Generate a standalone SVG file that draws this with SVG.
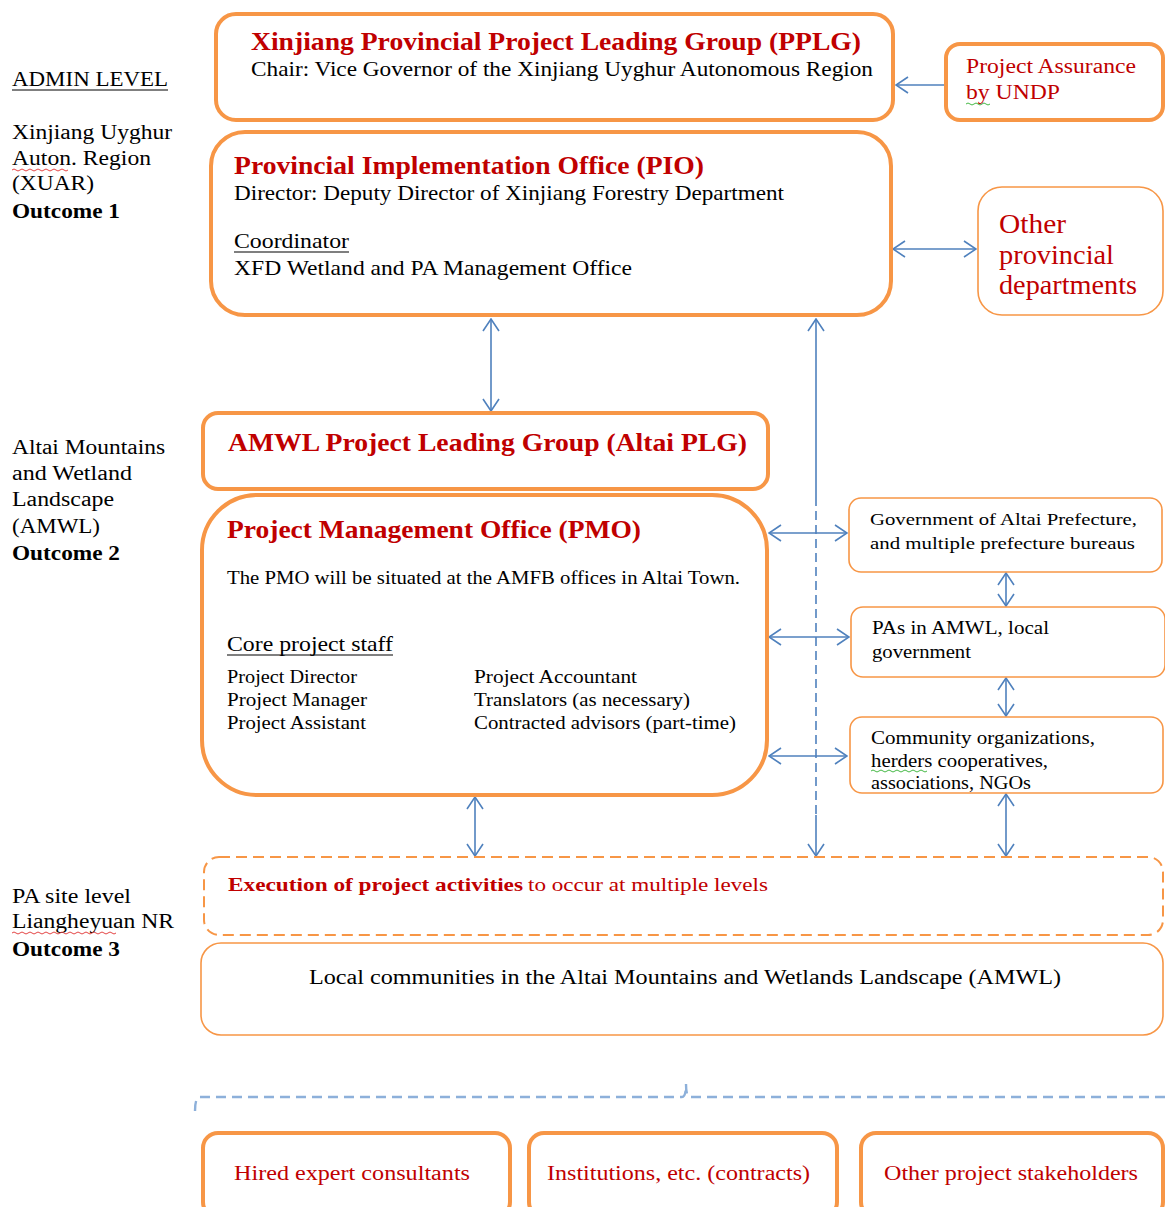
<svg xmlns="http://www.w3.org/2000/svg" width="1165" height="1207" viewBox="0 0 1165 1207">
<style>
text{font-family:"Liberation Serif","Times New Roman",serif;fill:#000}
.red{fill:#C00000}
.b{font-weight:bold}
.box{fill:#fff;stroke:#F79646;stroke-width:4}
.thin{fill:#fff;stroke:#F79646;stroke-width:1.6}
.dash{fill:#fff;stroke:#F79646;stroke-width:2;stroke-dasharray:11 6}
.ln{stroke:#4F81BD;stroke-width:1.6;fill:none}
.ul{stroke:#000;stroke-width:1.2}
.wr{stroke:#E03030;stroke-width:0.9;fill:none}
.wg{stroke:#30B030;stroke-width:0.9;fill:none}
</style>
<defs>
<marker id="ah" viewBox="0 0 14 18" refX="13" refY="9" markerWidth="14" markerHeight="18" markerUnits="userSpaceOnUse" orient="auto-start-reverse">
<path d="M1,1 L13,9 L1,17" fill="none" stroke="#4F81BD" stroke-width="1.6"/>
</marker>
</defs>
<rect width="1165" height="1207" fill="#fff"/>

<g id="left-labels" font-size="20">
<text x="12" y="86" textLength="156" lengthAdjust="spacingAndGlyphs">ADMIN LEVEL</text>
<line class="ul" x1="12" y1="90" x2="168" y2="90"/>
<text x="12" y="139" textLength="160" lengthAdjust="spacingAndGlyphs">Xinjiang Uyghur</text>
<text x="12" y="165" textLength="139" lengthAdjust="spacingAndGlyphs">Auton. Region</text>
<path class="wr" d="M12,170 q2,-2 4,0 t4,0 t4,0 t4,0 t4,0 t4,0 t4,0 t4,0 t4,0 t4,0 t4,0 t4,0 t4,0 t4,0"/>
<text x="12" y="190" textLength="82" lengthAdjust="spacingAndGlyphs">(XUAR)</text>
<text x="12" y="218" class="b" textLength="108" lengthAdjust="spacingAndGlyphs">Outcome 1</text>
<text x="12" y="454" textLength="153" lengthAdjust="spacingAndGlyphs">Altai Mountains</text>
<text x="12" y="480" textLength="120" lengthAdjust="spacingAndGlyphs">and Wetland</text>
<text x="12" y="506" textLength="102" lengthAdjust="spacingAndGlyphs">Landscape</text>
<text x="12" y="533" textLength="88" lengthAdjust="spacingAndGlyphs">(AMWL)</text>
<text x="12" y="560" class="b" textLength="108" lengthAdjust="spacingAndGlyphs">Outcome 2</text>
<text x="12" y="903" textLength="119" lengthAdjust="spacingAndGlyphs">PA site level</text>
<text x="12" y="928" textLength="162" lengthAdjust="spacingAndGlyphs">Liangheyuan NR</text>
<path class="wr" d="M12,933 q2,-2 4,0 t4,0 t4,0 t4,0 t4,0 t4,0 t4,0 t4,0 t4,0 t4,0 t4,0 t4,0 t4,0 t4,0 t4,0 t4,0 t4,0 t4,0 t4,0 t4,0 t4,0 t4,0 t4,0 t4,0 t4,0 t4,0"/>
<text x="12" y="956" class="b" textLength="108" lengthAdjust="spacingAndGlyphs">Outcome 3</text>
</g>

<g id="connectors">
<line class="ln" x1="945" y1="85" x2="896" y2="85" marker-end="url(#ah)"/>
<line class="ln" x1="893" y1="249" x2="976" y2="249" marker-start="url(#ah)" marker-end="url(#ah)"/>
<line class="ln" x1="491" y1="319" x2="491" y2="411" marker-start="url(#ah)" marker-end="url(#ah)"/>
<line class="ln" x1="816" y1="319" x2="816" y2="497" marker-start="url(#ah)"/>
<line class="ln" x1="816" y1="497" x2="816" y2="815" stroke-dasharray="9 5"/>
<line class="ln" x1="816" y1="815" x2="816" y2="856" marker-end="url(#ah)"/>
<line class="ln" x1="769" y1="533" x2="847" y2="533" marker-start="url(#ah)" marker-end="url(#ah)"/>
<line class="ln" x1="769" y1="637" x2="849" y2="637" marker-start="url(#ah)" marker-end="url(#ah)"/>
<line class="ln" x1="769" y1="756" x2="847" y2="756" marker-start="url(#ah)" marker-end="url(#ah)"/>
<line class="ln" x1="1006" y1="573" x2="1006" y2="606" marker-start="url(#ah)" marker-end="url(#ah)"/>
<line class="ln" x1="1006" y1="678" x2="1006" y2="716" marker-start="url(#ah)" marker-end="url(#ah)"/>
<line class="ln" x1="1006" y1="794" x2="1006" y2="856" marker-start="url(#ah)" marker-end="url(#ah)"/>
<line class="ln" x1="475" y1="797" x2="475" y2="856" marker-start="url(#ah)" marker-end="url(#ah)"/>
<path d="M195,1111 Q195,1097 200,1097 L682,1097 Q686,1097 686,1084 Q686,1097 690,1097 L1165,1097" fill="none" stroke="#8DB0DA" stroke-width="2.4" stroke-dasharray="10 6"/>
</g>

<g id="pplg">
<rect class="box" x="216" y="14" width="677" height="106" rx="20"/>
<text x="251" y="50" font-size="26" class="b red" textLength="610" lengthAdjust="spacingAndGlyphs">Xinjiang Provincial Project Leading Group (PPLG)</text>
<text x="251" y="76" font-size="21" textLength="622" lengthAdjust="spacingAndGlyphs">Chair: Vice Governor of the Xinjiang Uyghur Autonomous Region</text>
</g>

<g id="assurance">
<rect class="box" x="946" y="44" width="217" height="76" rx="14" stroke-width="3.5"/>
<text x="966" y="73" font-size="20" class="red" textLength="170" lengthAdjust="spacingAndGlyphs">Project Assurance</text>
<text x="966" y="99" font-size="20" class="red" textLength="94" lengthAdjust="spacingAndGlyphs">by UNDP</text>
<path class="wg" d="M966,104 q2,-2 4,0 t4,0 t4,0 t4,0 t4,0 t4,0"/>
</g>

<g id="pio">
<rect class="box" x="211" y="132" width="680" height="183" rx="34"/>
<text x="234" y="174" font-size="26" class="b red" textLength="470" lengthAdjust="spacingAndGlyphs">Provincial Implementation Office (PIO)</text>
<text x="234" y="200" font-size="21" textLength="550" lengthAdjust="spacingAndGlyphs">Director: Deputy Director of Xinjiang Forestry Department</text>
<text x="234" y="248" font-size="21" textLength="115" lengthAdjust="spacingAndGlyphs">Coordinator</text>
<line class="ul" x1="234" y1="252" x2="349" y2="252"/>
<text x="234" y="275" font-size="21" textLength="398" lengthAdjust="spacingAndGlyphs">XFD Wetland and PA Management Office</text>
</g>

<g id="other-depts">
<rect class="thin" x="978" y="187" width="185" height="128" rx="24"/>
<text x="999" y="233" font-size="27" class="red" textLength="67" lengthAdjust="spacingAndGlyphs">Other</text>
<text x="999" y="264" font-size="27" class="red" textLength="115" lengthAdjust="spacingAndGlyphs">provincial</text>
<text x="999" y="294" font-size="27" class="red" textLength="138" lengthAdjust="spacingAndGlyphs">departments</text>
</g>

<g id="altai-plg">
<rect class="box" x="203" y="413" width="565" height="76" rx="15"/>
<text x="228" y="451" font-size="26" class="b red" textLength="519" lengthAdjust="spacingAndGlyphs">AMWL Project Leading Group (Altai PLG)</text>
</g>

<g id="pmo">
<rect class="box" x="202" y="495" width="565" height="300" rx="55"/>
<text x="227" y="538" font-size="26" class="b red" textLength="414" lengthAdjust="spacingAndGlyphs">Project Management Office (PMO)</text>
<text x="227" y="584" font-size="18" textLength="513" lengthAdjust="spacingAndGlyphs">The PMO will  be situated at the AMFB offices in Altai Town.</text>
<text x="227" y="651" font-size="21" textLength="166" lengthAdjust="spacingAndGlyphs">Core project staff</text>
<line class="ul" x1="227" y1="655" x2="393" y2="655"/>
<text x="227" y="683" font-size="18" textLength="130" lengthAdjust="spacingAndGlyphs">Project Director</text>
<text x="227" y="706" font-size="18" textLength="140" lengthAdjust="spacingAndGlyphs">Project Manager</text>
<text x="227" y="729" font-size="18" textLength="139" lengthAdjust="spacingAndGlyphs">Project Assistant</text>
<text x="474" y="683" font-size="18" textLength="163" lengthAdjust="spacingAndGlyphs">Project Accountant</text>
<text x="474" y="706" font-size="18" textLength="216" lengthAdjust="spacingAndGlyphs">Translators (as necessary)</text>
<text x="474" y="729" font-size="18" textLength="262" lengthAdjust="spacingAndGlyphs">Contracted advisors (part-time)</text>
</g>

<g id="gov-altai">
<rect class="thin" x="849" y="498" width="313" height="74" rx="12"/>
<text x="870" y="525" font-size="17" textLength="267" lengthAdjust="spacingAndGlyphs">Government of Altai Prefecture,</text>
<text x="870" y="549" font-size="17" textLength="265" lengthAdjust="spacingAndGlyphs">and multiple prefecture bureaus</text>
</g>

<g id="pas-amwl">
<rect class="thin" x="851" y="607" width="314" height="70" rx="12"/>
<text x="872" y="634" font-size="18" textLength="177" lengthAdjust="spacingAndGlyphs">PAs in AMWL, local</text>
<text x="872" y="658" font-size="18" textLength="99" lengthAdjust="spacingAndGlyphs">government</text>
</g>

<g id="community-orgs">
<rect class="thin" x="850" y="717" width="313" height="76" rx="12"/>
<text x="871" y="744" font-size="18" textLength="224" lengthAdjust="spacingAndGlyphs">Community organizations,</text>
<text x="871" y="767" font-size="18" textLength="177" lengthAdjust="spacingAndGlyphs">herders cooperatives,</text>
<path class="wg" d="M871,771 q2,-2 4,0 t4,0 t4,0 t4,0 t4,0 t4,0 t4,0 t4,0 t4,0 t4,0 t4,0 t4,0 t4,0 t4,0"/>
<text x="871" y="789" font-size="18" textLength="160" lengthAdjust="spacingAndGlyphs">associations, NGOs</text>
</g>

<g id="execution">
<rect class="dash" x="204" y="857" width="959" height="78" rx="15"/>
<text x="228" y="891" font-size="19" class="b red" textLength="295" lengthAdjust="spacingAndGlyphs">Execution of project activities</text>
<text x="528" y="891" font-size="19" class="red" textLength="240" lengthAdjust="spacingAndGlyphs">to occur at multiple levels</text>
</g>

<g id="local-communities">
<rect class="thin" x="201" y="943" width="962" height="92" rx="20" stroke-width="2"/>
<text x="309" y="984" font-size="20" textLength="752" lengthAdjust="spacingAndGlyphs">Local communities in the Altai Mountains and Wetlands Landscape (AMWL)</text>
</g>

<g id="hired-consultants">
<rect class="box" x="203" y="1133" width="307" height="84" rx="15"/>
<text x="234" y="1180" font-size="20" class="red" textLength="236" lengthAdjust="spacingAndGlyphs">Hired expert consultants</text>
</g>
<g id="institutions">
<rect class="box" x="529" y="1133" width="308" height="84" rx="15"/>
<text x="547" y="1180" font-size="20" class="red" textLength="263" lengthAdjust="spacingAndGlyphs">Institutions, etc. (contracts)</text>
</g>
<g id="other-stakeholders">
<rect class="box" x="861" y="1133" width="302" height="84" rx="15"/>
<text x="884" y="1180" font-size="20" class="red" textLength="254" lengthAdjust="spacingAndGlyphs">Other project stakeholders</text>
</g>
</svg>
